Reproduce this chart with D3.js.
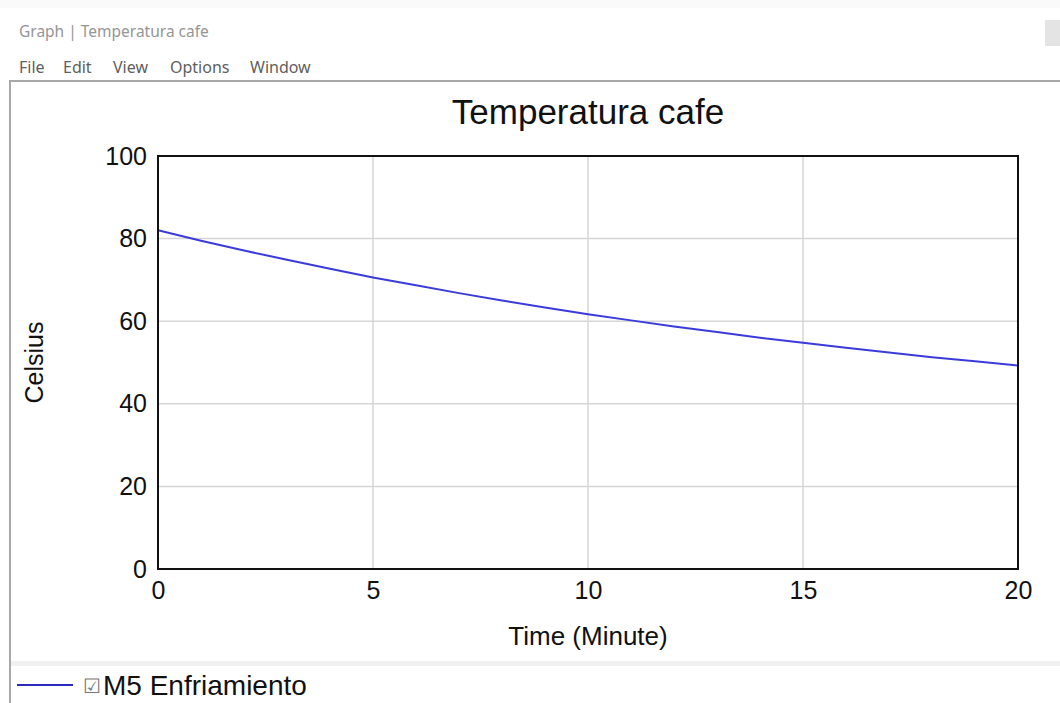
<!DOCTYPE html>
<html>
<head>
<meta charset="utf-8">
<script src="https://cdn.jsdelivr.net/npm/d3@7"></script>
<style>
  body { margin:0; background:#fff; }
  svg text { font-family: "Liberation Sans", Arial, sans-serif; fill:#111; }
  .ui { font-family: "Noto Sans", "Open Sans", sans-serif !important; }
  .tick text { font-size:25px; }
</style>
</head>
<body>
<svg id="graph"></svg>
<script>
// data
var minutes = [0,1,2,3,4,5,6,7,8,9,10,11,12,13,14,15,16,17,18,19,20]
var celsius = [82.0,79.5,77.1,74.9,72.7,70.6,68.7,66.8,65.0,63.3,61.7,
               60.2,58.7,57.4,56.0,54.8,53.6,52.4,51.3,50.3,49.3]
var xTicks = [0,5,10,15,20]
var yTicks = [0,20,40,60,80,100]
var menuItems = ["File","Edit","View","Options","Window"]
var seriesName = "M5 Enfriamiento"

//draws the window chrome round the chart
var drawWindow = function(svg,screen)
{
    svg.append("rect").attr("x",0).attr("y",0).attr("width",screen.width).attr("height",8).attr("fill","#fafafa")
    svg.append("text").text("Graph | Temperatura cafe")
       .classed("ui",true).attr("font-size",15.5).attr("x",19).attr("y",37).style("fill","#959595")
    svg.append("rect").attr("x",1045).attr("y",20).attr("width",20).attr("height",26).attr("fill","#e4e4e4")

    var xpos = [19,63,113,170,250]
    svg.append("g").selectAll("text")
       .data(menuItems).enter().append("text")
       .classed("ui",true)
       .attr("font-size",16)
       .text(function(d){return d})
       .attr("x",function(d,i){return xpos[i]})
       .attr("y",73).style("fill","#606060")

    //panel border
    svg.append("line").attr("x1",10).attr("x2",screen.width).attr("y1",81).attr("y2",81)
       .attr("stroke","#a8a8a8").attr("stroke-width",2)
    svg.append("line").attr("x1",10).attr("x2",10).attr("y1",80).attr("y2",screen.height)
       .attr("stroke","#a8a8a8").attr("stroke-width",2)
    //legend separator
    svg.append("rect").attr("x",11).attr("y",661).attr("width",screen.width).attr("height",5).attr("fill","#f1f1f1")
}

var initGraph = function()
{
    var screen = {width:1060,height:703}
    var margins = {left:158,right:42,top:156,bottom:134}
    var graph = {
        width:screen.width-margins.left-margins.right,
        height:screen.height-margins.top-margins.bottom
    }

    var svg = d3.select("#graph")
        .attr("width",screen.width)
        .attr("height",screen.height)

    drawWindow(svg,screen)

    var xScale = d3.scaleLinear().domain([0,20]).range([0,graph.width])
    var yScale = d3.scaleLinear().domain([0,100]).range([graph.height,0])

    var target = svg.append("g")
        .attr("transform","translate("+margins.left+","+margins.top+")")

    //grid
    target.append("g").selectAll("line")
        .data(xTicks.slice(1,-1)).enter().append("line")
        .attr("x1",function(d){return xScale(d)}).attr("x2",function(d){return xScale(d)})
        .attr("y1",0).attr("y2",graph.height)
        .attr("stroke","#d6d6d6").attr("stroke-width",1.5)
    target.append("g").selectAll("line")
        .data(yTicks.slice(1,-1)).enter().append("line")
        .attr("y1",function(d){return yScale(d)}).attr("y2",function(d){return yScale(d)})
        .attr("x1",0).attr("x2",graph.width)
        .attr("stroke","#d6d6d6").attr("stroke-width",1.5)

    //axes
    var xAxis = d3.axisBottom(xScale).tickValues(xTicks).tickSize(0).tickPadding(12)
    target.append("g")
        .attr("transform","translate(0,"+graph.height+")")
        .call(xAxis)
        .call(function(g){g.select(".domain").remove()})
    var yAxis = d3.axisLeft(yScale).tickValues(yTicks).tickSize(0).tickPadding(11)
    target.append("g")
        .call(yAxis)
        .call(function(g){g.select(".domain").remove()})

    //line
    var points = minutes.map(function(m,i){return {t:m,c:celsius[i]}})
    var line = d3.line()
        .x(function(p){return xScale(p.t)})
        .y(function(p){return yScale(p.c)})
    target.append("path")
        .datum(points)
        .attr("d",line)
        .attr("fill","none")
        .attr("stroke","#3b3bdc")
        .attr("stroke-width",2)

    //frame
    target.append("rect")
        .attr("width",graph.width).attr("height",graph.height)
        .attr("fill","none").attr("stroke","#111").attr("stroke-width",2)

    //labels
    svg.append("text").text("Temperatura cafe")
        .attr("text-anchor","middle").attr("font-size",35)
        .attr("x",margins.left+graph.width/2).attr("y",124)
    svg.append("text").text("Time (Minute)")
        .attr("text-anchor","middle").attr("font-size",26)
        .attr("x",margins.left+graph.width/2).attr("y",645)
    svg.append("g")
        .attr("transform","translate(43,"+(margins.top+graph.height/2)+")")
        .append("text").text("Celsius")
        .attr("text-anchor","middle").attr("font-size",25)
        .attr("transform","rotate(-90)")

    //legend
    var legend = svg.append("g").attr("transform","translate(17,685)")
    legend.append("line").attr("x1",0).attr("x2",56).attr("y1",0).attr("y2",0)
        .attr("stroke","#2a2ac0").attr("stroke-width",2)
    legend.append("text").text("\u2611")
        .attr("x",66).attr("y",8).attr("font-size",20).style("fill","#777")
    legend.append("text").text(seriesName)
        .attr("x",86).attr("y",10).attr("font-size",28)
}

initGraph()
</script>
</body>
</html>
